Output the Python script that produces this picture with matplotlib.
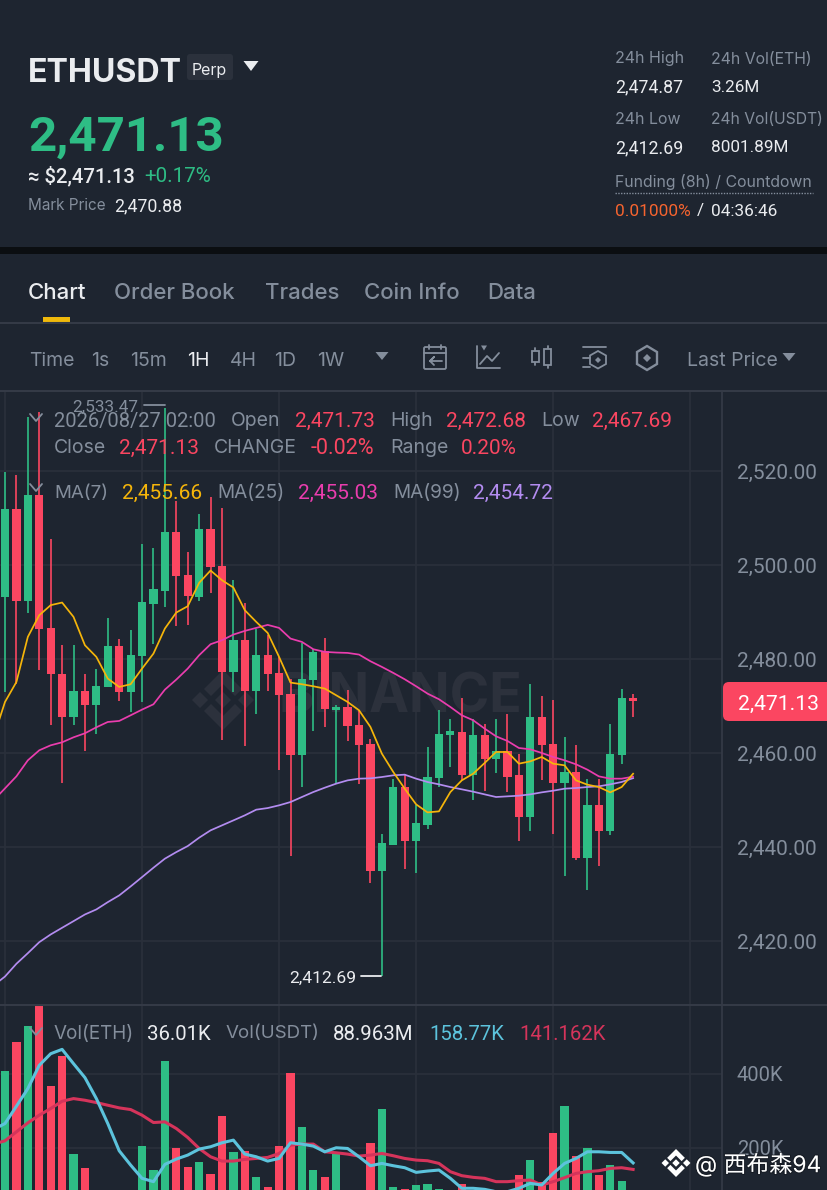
import numpy as np
import matplotlib
matplotlib.use('Agg')
import matplotlib.pyplot as plt
import matplotlib.patheffects as pe
from matplotlib.patches import FancyBboxPatch, Polygon, Rectangle

# candles, 1H ETHUSDT
opens = [2493.26, 2511.91, 2492.48, 2514.89, 2486.59, 2476.95, 2467.73, 2473.19, 2470.21, 2474.11,
         2482.76, 2473.05, 2480.71, 2491.84, 2494.53, 2506.95, 2498.01, 2493.26, 2507.58, 2499.85,
         2477.37, 2484.04, 2473.26, 2480.92, 2477.09, 2472.69, 2459.71, 2475.67, 2481.70, 2469.22,
         2469.93, 2466.03, 2462.05, 2434.96, 2440.49, 2452.76, 2441.42, 2444.82, 2454.68, 2463.97,
         2464.61, 2455.46, 2463.83, 2458.79, 2460.49, 2455.32, 2446.52, 2467.66, 2461.98, 2453.68,
         2456.10, 2437.80, 2448.93, 2443.40, 2459.64, 2471.73]
highs = [2519.85, 2519.14, 2531.56, 2532.62, 2505.46, 2482.97, 2482.97, 2476.95, 2478.01, 2488.79,
         2484.32, 2486.31, 2504.46, 2503.61, 2533.47, 2513.61, 2502.83, 2510.85, 2514.53, 2512.05,
         2496.80, 2492.05, 2486.52, 2485.10, 2480.49, 2475.88, 2483.47, 2482.27, 2484.61, 2470.35,
         2473.54, 2469.15, 2463.12, 2442.90, 2454.54, 2455.67, 2448.93, 2461.34, 2469.15, 2467.23,
         2471.77, 2467.37, 2466.31, 2467.37, 2468.44, 2459.78, 2474.68, 2472.12, 2471.27, 2463.47,
         2461.70, 2454.61, 2454.46, 2466.31, 2473.76, 2472.68]
lows = [2473.05, 2474.82, 2489.93, 2477.66, 2466.10, 2453.62, 2465.95, 2460.50, 2464.04, 2474.11,
        2471.06, 2468.79, 2470.92, 2483.19, 2491.13, 2487.02, 2487.37, 2492.41, 2494.18, 2462.77,
        2473.05, 2461.49, 2468.44, 2473.19, 2456.38, 2438.15, 2452.83, 2464.75, 2465.60, 2453.40,
        2462.55, 2453.55, 2432.41, 2412.69, 2440.49, 2435.46, 2434.54, 2443.83, 2452.83, 2457.09,
        2454.25, 2450.00, 2451.98, 2455.88, 2451.77, 2441.34, 2443.40, 2454.25, 2442.76, 2433.90,
        2437.23, 2430.85, 2436.03, 2442.62, 2457.66, 2467.69]
closes = [2511.91, 2492.48, 2514.89, 2486.38, 2476.80, 2467.73, 2473.19, 2470.21, 2474.39, 2482.76,
          2473.05, 2480.99, 2492.19, 2494.89, 2506.95, 2497.66, 2493.40, 2507.58, 2499.57, 2477.37,
          2484.04, 2473.26, 2480.92, 2476.80, 2472.34, 2459.71, 2475.88, 2481.56, 2469.36, 2469.93,
          2465.74, 2461.77, 2434.96, 2440.85, 2452.76, 2441.42, 2445.10, 2454.96, 2464.18, 2464.61,
          2455.46, 2463.83, 2458.72, 2460.49, 2455.03, 2446.52, 2467.66, 2461.70, 2453.68, 2456.10,
          2437.80, 2448.93, 2443.40, 2459.93, 2471.70, 2471.13]

# moving averages, first value is the candle just off the left edge
ma7 = [2463.47, 2470.92, 2475.17, 2484.75, 2489.36, 2491.49, 2492.05, 2489.00, 2482.97, 2480.49,
       2475.88, 2474.11, 2474.68, 2478.01, 2481.20, 2486.52, 2489.93, 2491.27, 2496.24, 2498.86,
       2496.80, 2495.24, 2490.42, 2487.94, 2485.60, 2480.49, 2475.03, 2474.68, 2474.25, 2473.76,
       2472.34, 2470.92, 2469.15, 2465.60, 2459.93, 2456.03, 2452.48, 2449.15, 2447.44, 2447.66,
       2451.77, 2454.25, 2455.67, 2457.94, 2460.28, 2460.28, 2457.80, 2458.29, 2459.22, 2457.80,
       2457.44, 2454.25, 2453.33, 2452.83, 2451.70, 2452.83, 2455.66]
ma25 = [2450.00, 2452.55, 2455.11, 2458.51, 2460.64, 2461.70, 2462.34, 2463.40, 2464.26, 2465.53,
        2466.66, 2466.88, 2468.08, 2469.29, 2470.42, 2473.54, 2475.67, 2478.01, 2480.85, 2483.19,
        2484.04, 2485.24, 2486.02, 2486.66, 2487.30, 2486.66, 2484.39, 2483.68, 2482.12, 2481.56,
        2481.42, 2481.34, 2480.99, 2479.57, 2478.37, 2477.09, 2475.74, 2474.25, 2472.69, 2471.49,
        2469.85, 2468.08, 2467.02, 2465.25, 2463.61, 2462.62, 2461.13, 2460.85, 2460.07, 2459.22,
        2458.51, 2457.66, 2456.52, 2455.10, 2454.61, 2454.61, 2455.03]
ma99 = [2410.64, 2412.55, 2415.26, 2417.51, 2419.85, 2421.49, 2422.91, 2424.32, 2425.74, 2426.81,
        2428.36, 2429.79, 2431.70, 2433.68, 2435.68, 2437.60, 2439.00, 2440.28, 2442.06, 2443.62,
        2444.68, 2445.74, 2446.81, 2448.02, 2448.36, 2448.94, 2449.64, 2450.71, 2451.77, 2452.69,
        2453.55, 2454.25, 2454.61, 2454.68, 2454.96, 2455.32, 2455.46, 2454.61, 2453.90, 2453.40,
        2452.83, 2452.34, 2451.84, 2451.27, 2450.71, 2450.85, 2450.99, 2451.27, 2451.70, 2452.05,
        2452.48, 2452.62, 2452.83, 2452.98, 2453.40, 2453.90, 2454.72]

# volume in K, the ones under the crop are guesses
volumes = [408, 486, 531, 583, 367, 449, 183, 146, 70, 60, 50, 65, 205, 139, 435, 200, 147, 161, 129, 286,
           188, 192, 121, 94, 205, 403, 255, 140, 121, 185, 70, 75, 212, 306, 93, 88, 99, 101, 88, 60,
           101, 65, 55, 50, 45, 126, 168, 108, 240, 312, 177, 198, 126, 153, 111, 36.01]
vol_ma_a = [249.4, 265.6, 312.5, 360.2, 423.3, 454.8, 466.6, 427.8, 390.0, 333.2, 265.6, 191.7, 153.0, 117.0,
            108.0, 154.8, 169.2, 180.0, 196.3, 202.6, 213.4, 220.6, 182.7, 175.5, 163.8, 171.0, 213.4, 209.8,
            204.4, 189.0, 199.9, 198.0, 175.5, 151.2, 157.5, 151.2, 145.8, 133.2, 136.8, 139.5, 117.0, 90.0,
            90.0, 87.2, 80.9, 80.9, 90.0, 103.4, 98.9, 130.5, 157.5, 171.0, 189.0, 189.0, 187.2, 187.2, 158.77]
vol_ma_b = [209.8, 218.8, 243.1, 267.4, 288.2, 306.2, 326.0, 333.2, 328.7, 322.4, 315.2, 308.0, 303.5, 288.2,
            268.3, 270.1, 252.1, 227.8, 198.0, 175.5, 163.8, 163.8, 168.3, 171.0, 173.7, 184.5, 207.0, 209.8,
            209.8, 189.0, 186.3, 182.7, 177.3, 180.0, 184.5, 178.2, 171.0, 166.5, 164.7, 157.5, 135.0, 124.2,
            119.7, 117.0, 108.0, 108.0, 110.7, 112.5, 98.9, 108.0, 118.8, 130.5, 135.0, 137.7, 144.0, 145.8, 141.162]

price_ticks = [2420, 2440, 2460, 2480, 2500, 2520]
vol_ticks = [200, 400]
intervals = ['Time', '1s', '15m', '1H', '4H', '1D', '1W']
interval_x = [29.5, 91.5, 130.5, 187.5, 229.5, 274.5, 317.5]
tabs = ['Chart', 'Order Book', 'Trades', 'Coin Info', 'Data']
tab_x = [28, 114, 265, 364, 487]

BG = '#1e2530'
GRID = '#2a303b'
SEP = '#343a46'
MARK = '#2c313c'
UP = '#2ebd85'
DOWN = '#fb4661'
GREY = '#848e9c'
WHITE = '#eaecef'
YELLOW = '#f5b50a'
PINK = '#ea3dae'
PURPLE = '#b38cf0'
CYAN = '#5cc3dc'
CRIMSON = '#d5345b'
NUM = 'Roboto'  # digits are the same width here, as in the reference

W, H = 828, 1190
plt.rcParams['font.family'] = ['Inter', 'Noto Sans CJK SC', 'DejaVu Sans']
fig = plt.figure(figsize=(W / 100, H / 100), dpi=100, facecolor=BG)


def box(left, top, right, bottom):
    return [left / W, 1 - bottom / H, (right - left) / W, (bottom - top) / H]


xlim = (-5 / 11.42, 717 / 11.42)
ax = fig.add_axes(box(0, 391, 722, 1004.5), facecolor=BG)
ax.set_xlim(xlim)
ax.set_ylim(2406.6, 2537.02)
axv = fig.add_axes(box(0, 1005.5, 722, 1190), facecolor=BG)
axv.set_xlim(xlim)
axv.set_ylim(85.4, 585.5)

# screen furniture goes here, in pixel coordinates
ui = fig.add_axes([0, 0, 1, 1], facecolor='none', zorder=10)
ui.set_xlim(0, W)
ui.set_ylim(H, 0)
ui.axis('off')

idx = np.arange(len(opens))
ma_idx = np.arange(-1, len(opens))
colors = [UP if c >= o else DOWN for o, c in zip(opens, closes)]

for a in (ax, axv):
    for s in a.spines.values():
        s.set_visible(False)
    a.set_xticks([])
    a.set_yticks([])
    for i in range(0, 61, 12):
        a.axvline(i, color=GRID, lw=1.3, zorder=1)
for p in price_ticks:
    ax.axhline(p, color=GRID, lw=1.3, zorder=1)
for v in vol_ticks:
    axv.axhline(v, color=GRID, lw=1.3, zorder=1)


def logo(target, cx, cy, r, color, zorder):
    # the four-way diamond mark, r is the distance to the top tip
    k = r / 30
    for sign in (1, -1):
        pts = [(0, -30), (19, -11), (12, -4), (0, -16), (-12, -4), (-19, -11)]
        target.add_patch(Polygon([(cx + k * x, cy + sign * k * y) for x, y in pts], fc=color, lw=0,
                                 transform=ui.transData, zorder=zorder))
    for dx in (-23, 0, 23):
        target.add_patch(Polygon([(cx + k * (dx - 8), cy), (cx + k * dx, cy - k * 8),
                                  (cx + k * (dx + 8), cy), (cx + k * dx, cy + k * 8)], fc=color, lw=0,
                                 transform=ui.transData, zorder=zorder))


# watermark sits under the candles
ax.text(400, 698, 'BINANCE', color=MARK, fontsize=38.5, fontweight='bold', ha='center', va='center',
        zorder=1.5, transform=ui.transData)
logo(ax, 223, 700, 30, MARK, 1.5)

ax.vlines(idx, lows, highs, colors=colors, lw=1.2, zorder=3)
body_low = np.minimum(opens, closes)
body_h = np.maximum(np.abs(np.array(closes) - np.array(opens)), 0.7)
ax.bar(idx, body_h, bottom=body_low, width=0.72, color=colors, zorder=3)

ax.plot(ma_idx, ma99, color=PURPLE, lw=1.25, zorder=4)
ax.plot(ma_idx, ma25, color=PINK, lw=1.25, zorder=4)
ax.plot(ma_idx, ma7, color=YELLOW, lw=1.25, zorder=5)

axv.bar(idx, volumes, width=0.72, color=colors, zorder=3)
axv.plot(ma_idx, vol_ma_b, color=CRIMSON, lw=2.2, zorder=4)
axv.plot(ma_idx, vol_ma_a, color=CYAN, lw=2.2, zorder=5)


def txt(x, y, s, color=GREY, size=14, ha='left', weight='normal', **kw):
    return ui.text(x, y + 4, s, color=color, fontsize=size, ha=ha, va='center', fontweight=weight, **kw)


def num(x, y, s, color=WHITE, size=15, ha='left', weight='normal'):
    return txt(x, y, s, color=color, size=size, ha=ha, weight=weight, family=NUM)


def seg(xs, ys, color=GREY, lw=1.3):
    ui.plot(xs, ys, color=color, lw=lw, solid_capstyle='round', solid_joinstyle='round')


def tri(cx, cy, w, h, color):
    ui.add_patch(Polygon([(cx - w / 2, cy - h / 2), (cx + w / 2, cy - h / 2), (cx, cy + h / 2)], color=color, lw=0))


def diamond(cx, cy, r, color):
    ui.add_patch(Polygon([(cx - r, cy), (cx, cy - r), (cx + r, cy), (cx, cy + r)], color=color, lw=0))


def chevron(cx, cy):
    seg([cx - 6, cx, cx + 6], [cy - 4, cy + 3, cy - 4])


# header
txt(28, 69, 'ETHUSDT', color=WHITE, size=23.2, weight='bold')
ui.add_patch(FancyBboxPatch((187, 54), 46, 26, boxstyle='round,pad=0,rounding_size=3', fc='#2b313c', ec='none'))
txt(209, 66, 'Perp', color=WHITE, size=11.5, ha='center')
tri(251, 66, 15, 10, WHITE)
num(28, 134, '2,471.13', color=UP, size=35.5, weight='bold')
num(28, 172, '≈ $2,471.13', size=14.6, weight='medium')
num(144, 172, '+0.17%', color=UP, size=14.9)
txt(28, 202, 'Mark Price', size=11)
num(114, 202, '2,470.88', size=12.8)

txt(615, 55, '24h High', size=11.5)
txt(711, 55, '24h Vol(ETH)', size=11.4)
num(615, 83, '2,474.87', size=12.8)
num(711, 83, '3.26M', size=12.3)
txt(615, 116, '24h Low', size=11.5)
txt(711, 116, '24h Vol(USDT)', size=11.3)
num(615, 144, '2,412.69', size=12.8)
num(711, 144, '8001.89M', size=12.3)
txt(615, 178, 'Funding (8h) / Countdown', size=11.4)
ui.plot([615, 813], [193, 193], color=GREY, lw=1, ls=(0, (1, 1)))
num(615, 207, '0.01000%', color='#f6642f', size=12.4)
num(697, 207, '/', size=12.4)
num(711, 207, '04:36:46', size=12.4)

ui.add_patch(Rectangle((0, 247), W, 7, fc='#0b0e11', ec='none'))

# tabs
for label, x in zip(tabs, tab_x):
    txt(x, 289, label, color=WHITE if label == 'Chart' else GREY, size=16, weight='medium')
ui.add_patch(Rectangle((43, 317), 27, 6, fc='#f0b90b', ec='none'))
ui.plot([0, W], [323, 323], color=SEP, lw=1.5)

# interval row
for label, x in zip(intervals, interval_x):
    txt(x, 357, label, color=WHITE if label == '1H' else GREY, size=14)
tri(382, 356, 13, 8, GREY)
txt(687, 357, 'Last Price', size=14)
tri(789, 357, 13, 8, GREY)

# toolbar icons
ix = 423
ui.add_patch(FancyBboxPatch((ix + 1, 347), 22, 22, boxstyle='round,pad=0,rounding_size=1.5', fc='none', ec=GREY, lw=1.3))
seg([ix + 1, ix + 23], [353, 353])
seg([ix + 6, ix + 6], [345, 349])
seg([ix + 18, ix + 18], [345, 349])
seg([ix + 19, ix + 7, ix + 11, ix + 7, ix + 11], [361, 361, 357, 361, 365])
seg([477, 477, 500], [346, 368, 368])
seg([480, 487, 492, 499], [364, 356, 361, 353])
tri(484, 348, 6, 5, GREY)
for cx, top, bottom in [(535.5, 351, 362), (548, 349, 365)]:
    seg([cx, cx], [top - 3, bottom + 3])
    ui.add_patch(Rectangle((cx - 3.5, top), 7, bottom - top, fc=BG, ec=GREY, lw=1.3, zorder=3))
seg([583, 606], [347, 347])
seg([583, 590], [358, 358])
seg([583, 590], [367, 367])
ui.add_patch(Polygon([(598, 351), (606, 355.5), (606, 364), (598, 368.5), (590, 364), (590, 355.5)],
                     fc='none', ec=GREY, lw=1.3))
diamond(598, 360, 3, GREY)
ui.add_patch(Polygon([(647, 346), (657, 352), (657, 364), (647, 370), (637, 364), (637, 352)],
                     fc='none', ec=GREY, lw=1.7))
diamond(647, 358, 4, GREY)

ui.plot([0, W], [390.5, 390.5], color=SEP, lw=1.5)
ui.plot([0, W], [1005, 1005], color=SEP, lw=1.5)
ui.plot([722, 722], [391, H], color=SEP, lw=1.3)

# indicator legend rows
chevron(36, 418)
num(54, 417, '2026/08/27 02:00', color=GREY, size=14.5)
txt(231, 417, 'Open', size=14)
num(295, 417, '2,471.73', color=DOWN)
txt(390, 417, 'High', size=14)
num(446, 417, '2,472.68', color=DOWN)
txt(541, 417, 'Low', size=14)
num(592, 417, '2,467.69', color=DOWN)
txt(54, 444, 'Close', size=14)
num(119, 444, '2,471.13', color=DOWN)
txt(214, 444, 'CHANGE', size=14)
num(311, 444, '-0.02%', color=DOWN, size=15.5)
txt(390, 444, 'Range', size=14)
num(461, 444, '0.20%', color=DOWN)
chevron(36, 488)
txt(54, 489, 'MA(7)', size=13.5)
num(122, 489, '2,455.66', color=YELLOW)
txt(217, 489, 'MA(25)', size=13.7)
num(298, 489, '2,455.03', color=PINK)
txt(393, 489, 'MA(99)', size=13.7)
num(473, 489, '2,454.72', color=PURPLE)
chevron(36, 1032)
txt(54, 1030, 'Vol(ETH)', size=13.6)
num(147, 1030, '36.01K', size=14.7)
txt(226, 1030, 'Vol(USDT)', size=13.5)
num(333, 1030, '88.963M', size=14.7)
num(429, 1030, '158.77K', color=CYAN, size=14.7)
num(519, 1030, '141.162K', color=CRIMSON, size=14.7)

# axis labels
for p in price_ticks:
    num(737, 469 + (2520 - p) * 4.7, f'{p:,.2f}', color=GREY)
for v in vol_ticks:
    num(737, 1219.6 - v * 0.37, f'{v}K', color=GREY, size=14.5)

# extreme markers
num(72, 403, '2,533.47', color=GREY, size=12.4)
seg([144, 165], [405, 405])
num(289, 974, '2,412.69', size=12.6)
seg([361, 381], [976, 976], color=WHITE)

# last price pill
ui.add_patch(FancyBboxPatch((723, 682), 110, 39, boxstyle='round,pad=0,rounding_size=6', fc=DOWN, ec='none'))
num(738, 700, '2,471.13', color='white', size=15.2)

# repost mark, bottom right
logo(ui, 676, 1163, 14, 'white', 12)
t = txt(695, 1161, '@ 西布森94', color='white', size=16.5)
t.set_path_effects([pe.withStroke(linewidth=1.5, foreground='#11151c', alpha=0.6)])

fig.savefig('out.png', dpi=100, facecolor=BG)
